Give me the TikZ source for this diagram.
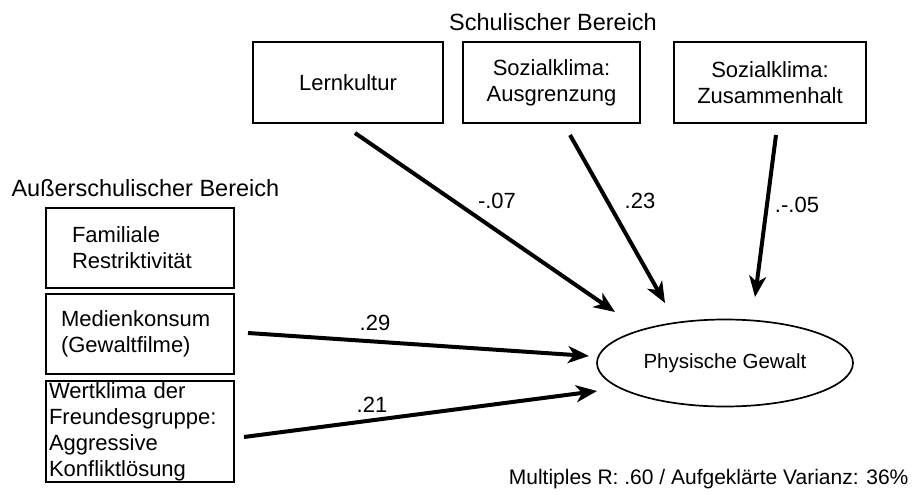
\documentclass[tikz,border=0pt]{standalone}
\usepackage{fontspec}
\setmainfont{Liberation Sans}
\usetikzlibrary{positioning, shapes.geometric, arrows.meta}

\begin{document}
\begin{tikzpicture}[x=1pt, y=-1pt,
		box/.style={draw, line width=1.7pt, inner sep=0pt, font=\fontsize{22}{26}\selectfont},
		pfeil/.style={line width=4pt, -{Stealth[length=21pt, width=17pt, inset=6pt]}},
		coef/.style={font=\fontsize{22}{26}\selectfont}]
		\useasboundingbox (0, 0) rectangle (913, 495);
		% Schulischer Bereich
		\node[font=\fontsize{23.5}{28}\selectfont] (schule) at (553, 22) {Schulischer Bereich};
		\node[box, minimum width=190pt, minimum height=81pt] (lern) at (348, 82.5) {Lernkultur};
		\node[box, minimum width=177pt, minimum height=81pt, align=center] (ausgr) at (551.5, 82.5) {Sozialklima:\\Ausgrenzung};
		\node[box, minimum width=192pt, minimum height=81pt, align=center] (zus) at (770, 82.5) {Sozialklima:\\Zusammenhalt};
		% Ausserschulischer Bereich
		\node[font=\fontsize{23.5}{28}\selectfont, anchor=west] (aussen) at (8, 188) {Außerschulischer Bereich};
		\node[box, inner xsep=26pt, text width=136pt, minimum height=80pt, align=left] (fam) at (140, 248) {Familiale\\Restriktivität};
		\node[box, inner xsep=15pt, text width=158pt, minimum height=80pt, align=left] (med) at (140, 334) {Medienkonsum\\(Gewaltfilme)};
		\node[box, inner xsep=3pt, text width=182pt, minimum height=101pt, align=left] (wert) at (140, 431.5) {Wertklima der\\Freundesgruppe:\\Aggressive\\Konfliktlösung};
		\node[draw, ellipse, line width=1.7pt, minimum width=256pt, minimum height=87pt, font=\fontsize{20.5}{24}\selectfont] (gewalt) at (725, 363) {Physische Gewalt};
		% Pfade
		\coordinate (lern-a) at (355, 133);
		\coordinate (lern-b) at (615, 312);
		\coordinate (ausgr-a) at (570, 135);
		\coordinate (ausgr-b) at (665, 303);
		\coordinate (zus-a) at (776, 135);
		\coordinate (zus-b) at (755, 297);
		\coordinate (med-a) at (248, 333);
		\coordinate (med-b) at (589, 356);
		\coordinate (wert-a) at (244, 437);
		\coordinate (wert-b) at (597, 391);
		\draw[pfeil] (lern-a) -- (lern-b);
		\draw[pfeil] (ausgr-a) -- (ausgr-b);
		\draw[pfeil] (zus-a) -- (zus-b);
		\draw[pfeil] (med-a) -- (med-b);
		\draw[pfeil] (wert-a) -- (wert-b);
		\node[coef] (k-lern) at (497, 201) {-.07};
		\node[coef] (k-ausgr) at (640, 201) {.23};
		\node[coef] (k-zus) at (797, 205) {.-.05};
		\node[coef] (k-med) at (375, 323) {.29};
		\node[coef] (k-wert) at (372, 405) {.21};
		\node[font=\fontsize{21}{25}\selectfont, anchor=east] (varianz) at (912, 479) {Multiples R: .60 / Aufgeklärte Varianz: 36\%};
	\end{tikzpicture}
\end{document}
